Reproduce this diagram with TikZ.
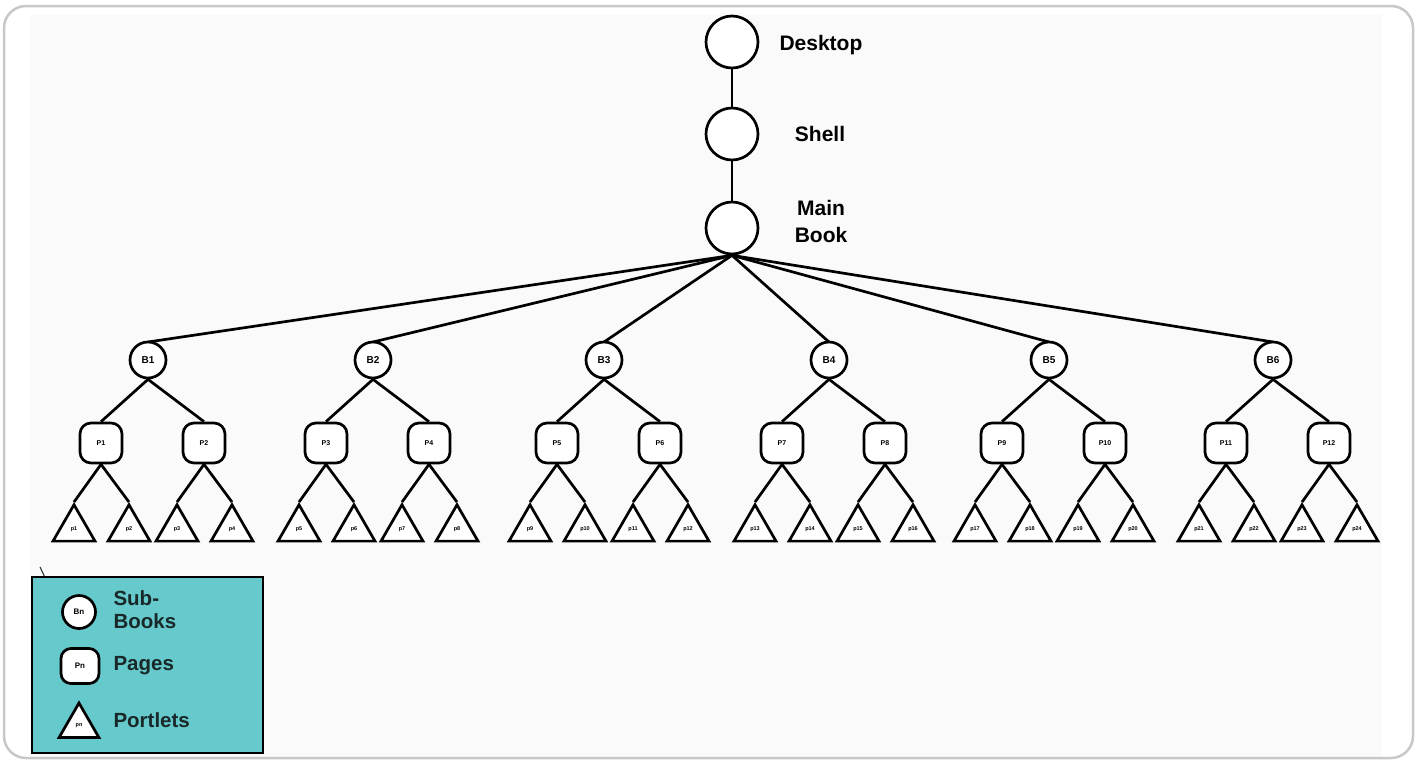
\documentclass[tikz,border=0pt]{standalone}
\usepackage{fontspec}
\setmainfont{Liberation Sans}
\usetikzlibrary{shapes.geometric}
\definecolor{framegray}{RGB}{200,200,200}
\definecolor{paper}{RGB}{250,250,250}
\definecolor{legendfill}{RGB}{102,201,204}
\definecolor{legendink}{RGB}{25,40,40}
\tikzset{
  ink/.style={line width=2.7pt, draw=black},
  topc/.style={ink, circle, minimum size=52pt, inner sep=0pt, fill=white},
  bookc/.style={ink, circle, minimum size=36pt, inner sep=0pt, fill=white,
    font=\bfseries\fontsize{10}{12}\selectfont},
  pagebox/.style={ink, rectangle, rounded corners=11pt, minimum width=42pt,
    minimum height=40pt, inner sep=0pt, fill=white,
    font=\bfseries\fontsize{7}{8}\selectfont},
  portlet/.style={ink, regular polygon, regular polygon sides=3,
    minimum size=48.5pt, inner sep=0pt, fill=white,
    font=\bfseries\fontsize{5.5}{6}\selectfont},
  bigtext/.style={font=\bfseries\fontsize{21}{26}\selectfont, align=center},
  legtext/.style={font=\bfseries\fontsize{20.5}{24}\selectfont, text=legendink,
    anchor=west, align=left},
  edge/.style={ink}
}
\begin{document}
\begin{tikzpicture}[x=1pt, y=-1pt]
\useasboundingbox (0,0) rectangle (1420,761);
% frame and paper
\fill[white] (0,0) rectangle (1420,761);
\fill[paper] (30,15) rectangle (1382,757);
\draw[framegray, line width=2.5pt, rounded corners=22pt] (4,6) rectangle (1413,758);

% top chain
\node[topc] (desk) at (732,42) {};
\node[topc] (shell) at (732,134) {};
\node[topc] (main) at (732,228) {};
\draw[edge] (desk) -- (shell);
\draw[edge] (shell) -- (main);
\node[bigtext, anchor=west] (ldesk) at (776,45) {Desktop};
\node[bigtext] (lshell) at (820,134) {Shell};
\node[bigtext, font=\bfseries\fontsize{21}{27}\selectfont] (lmain) at (821,221) {Main\\Book};

% sub-books, pages and portlets
\begin{scope}
\clip (0,0) rectangle (1381,761);
\foreach \b [count=\i] in {148,373,604,829,1049,1273} {
  \pgfmathtruncatemacro{\pa}{2*\i-1}
  \pgfmathtruncatemacro{\pb}{2*\i}
  \draw[edge] (main.south) -- (\b,342);
  \node[bookc] (B\i) at (\b,360) {B\i};
  \node[pagebox] (P\pa) at ({\b-47},443) {P\pa};
  \node[pagebox] (P\pb) at ({\b+56},443) {P\pb};
  \draw[edge] (B\i.south) -- (P\pa.north);
  \draw[edge] (B\i.south) -- (P\pb.north);
  \foreach \p/\x in {\pa/{\b-47},\pb/{\b+56}} {
    \pgfmathtruncatemacro{\ta}{2*\p-1}
    \pgfmathtruncatemacro{\tb}{2*\p}
    \node[portlet] (t\ta) at ({\x-27},529) {p\ta};
    \node[portlet] (t\tb) at ({\x+28},529) {p\tb};
    \draw[edge] (P\p.south) -- (t\ta.corner 1);
    \draw[edge] (P\p.south) -- (t\tb.corner 1);
  }
}
\end{scope}

% legend
\draw[legendink, line width=1pt] (40,567) -- (50,588);
\draw[ink, fill=legendfill] (32,577) rectangle (263,753);
\node[bookc, minimum size=33pt, font=\bfseries\fontsize{8}{9}\selectfont] (lgb) at (79,612) {Bn};
\node[pagebox, minimum width=38pt, minimum height=35pt, rounded corners=10pt,
  font=\bfseries\fontsize{8}{9}\selectfont] (lgp) at (80,666) {Pn};
\node[portlet, minimum size=46pt] (lgt) at (79,726) {pn};
\node[legtext] (lsub) at (110,610) {Sub-\\[-1pt]Books};
\node[legtext] (lpage) at (110,666) {Pages};
\node[legtext] (lport) at (110,720) {Portlets};
\end{tikzpicture}
\end{document}
